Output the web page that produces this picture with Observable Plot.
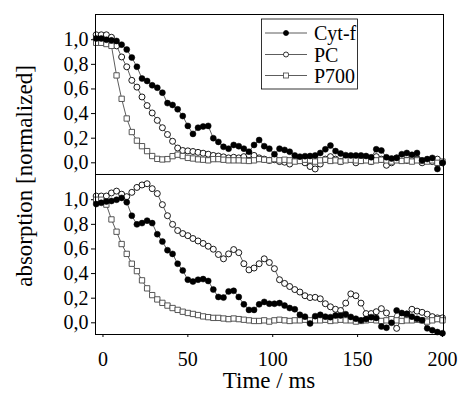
<!DOCTYPE html>
<html><head><meta charset="utf-8">
<script src="https://cdn.jsdelivr.net/npm/d3@7"></script>
<script src="https://cdn.jsdelivr.net/npm/@observablehq/plot@0.6"></script>
<style>body{margin:0;background:#fff}</style>
</head><body><div id="chart"></div>
<script>
const panels = ["top", "bottom"];
const seriesNames = ["Cyt-f", "PC", "P700"];
const xTicks = [0, 50, 100, 150, 200];
const yTicks = [0, 0.2, 0.4, 0.6, 0.8, 1.0];
const xTitle = "Time / ms";
const yTitle = "absorption [normalized]";

const times = [-4,-1,2,5,8,11,14,17,20,23,26,29,32,35,38,41,44,47,50,53,56,59,62,65,68,71,74,77,80,83,86,89,92,95,98,101,104,107,110,113,116,119,122,125,128,131,134,137,140,143,146,149,152,155,158,161,164,167,170,173,176,179,182,185,188,191,194,197,200];

const topCyt = [1.01,1.01,1.0,0.995,0.99,0.96,0.92,0.855,0.78,0.685,
0.665,0.63,0.61,0.57,0.485,0.47,0.435,0.38,0.3,0.235,
0.285,0.295,0.3,0.2,0.17,0.13,0.115,0.145,0.135,0.115,
0.09,0.145,0.185,0.135,0.115,0.07,0.115,0.105,0.09,0.06,
0.05,0.054,0.055,0.06,0.08,0.11,0.14,0.095,0.075,0.062,
0.06,0.06,0.06,0.055,0.045,0.11,0.10,0.045,0.035,0.04,
0.07,0.08,0.065,0.08,0.02,0.03,0.04,-0.05,0.0];
const topPC = [1.04,1.04,1.04,1.02,0.95,0.86,0.78,0.67,0.615,0.535,
0.465,0.405,0.345,0.285,0.23,0.175,0.12,0.1,0.097,0.092,
0.085,0.078,0.07,0.06,0.055,0.048,0.04,0.045,0.04,0.05,
0.065,0.06,0.04,0.03,0.02,0.025,0.01,0.005,-0.01,0.02,
0.03,0.0,-0.03,-0.05,-0.01,0.03,0.05,0.03,0.01,0.03,
0.04,0.0,0.02,0.03,0.01,0.05,0.03,-0.02,0.0,0.04,
0.05,0.02,0.05,0.03,0.0,0.02,0.01,0.03,0.0];
const topP700 = [0.975,0.975,0.965,0.95,0.71,0.52,0.36,0.25,0.18,0.135,
0.095,0.055,0.032,0.027,0.03,0.054,0.066,0.055,0.04,0.035,
0.028,0.025,0.02,0.03,0.03,0.025,0.02,0.02,0.02,0.018,
0.015,0.02,0.03,0.025,0.02,0.03,0.02,0.025,0.02,0.01,
0.015,0.025,0.02,0.01,0.02,0.025,0.015,0.02,0.01,0.02,
0.025,0.02,0.015,0.02,0.01,0.02,0.025,0.02,0.01,0.02,
0.015,0.02,0.01,0.02,0.015,0.01,0.02,0.0,0.01];

const botCyt = [0.965,0.975,0.985,0.99,1.0,1.015,0.98,0.87,0.80,0.81,
0.83,0.81,0.72,0.66,0.59,0.56,0.48,0.425,0.35,0.335,
0.35,0.355,0.34,0.27,0.21,0.205,0.255,0.26,0.21,0.15,
0.105,0.105,0.15,0.17,0.155,0.155,0.16,0.14,0.12,0.11,
0.065,0.05,-0.005,0.054,0.065,0.05,0.046,0.06,0.06,0.07,
0.048,0.033,0.02,0.03,0.046,0.04,-0.03,-0.04,0.0,0.1,
0.08,0.073,0.05,0.033,0.02,-0.045,-0.06,-0.075,-0.085];
const botPC = [1.03,1.03,1.03,1.055,1.07,1.045,1.025,1.06,1.10,1.12,
1.13,1.09,1.05,0.96,0.87,0.80,0.75,0.725,0.708,0.685,
0.665,0.645,0.622,0.598,0.555,0.52,0.56,0.595,0.57,0.48,
0.43,0.445,0.48,0.52,0.49,0.44,0.35,0.32,0.295,0.27,
0.25,0.22,0.205,0.207,0.195,0.155,0.13,0.11,0.10,0.16,
0.235,0.22,0.16,0.075,0.075,0.09,0.115,0.08,0.01,-0.045,
0.04,0.07,0.11,0.095,0.085,0.07,0.05,0.04,0.04];
const botP700 = [1.0,1.0,0.96,0.84,0.74,0.64,0.56,0.48,0.42,0.345,
0.28,0.225,0.19,0.162,0.14,0.12,0.105,0.09,0.08,0.072,
0.063,0.052,0.046,0.04,0.04,0.035,0.03,0.035,0.03,0.025,
0.02,0.015,0.015,0.02,0.01,0.02,0.025,0.02,0.015,0.02,
0.02,0.025,0.02,0.02,0.02,0.025,0.015,0.02,0.025,0.02,
0.02,0.01,0.015,0.02,0.025,0.02,0.015,0.02,0.03,0.02,
0.015,0.02,0.02,0.025,0.02,0.01,0.02,0.03,0.02];

const values = {
  top: {"Cyt-f": topCyt, "PC": topPC, "P700": topP700},
  bottom: {"Cyt-f": botCyt, "PC": botPC, "P700": botP700}
};
const rows = [];
for (const p of panels) for (const s of seriesNames)
  times.forEach((t, k) => rows.push({panel: p, series: s, t, v: values[p][s][k]}));

const comma = d => d3.format(".1f")(d).replace(".", ",");
const font = "'Liberation Serif', 'Times New Roman', serif";

const chart = Plot.plot({
  width: 461, height: 396,
  marginLeft: 95, marginRight: 18, marginTop: 13, marginBottom: 62,
  style: {fontFamily: font, fontSize: "20px", background: "white", color: "black"},
  facet: {data: rows, y: "panel", marginRight: 18},
  fy: {domain: panels, padding: 0, axis: null, label: null},
  x: {domain: [-4.4, 200.6], ticks: xTicks, tickSize: 3, tickPadding: 14, label: null},
  y: {domain: [-0.095, 1.205], ticks: yTicks, tickFormat: comma, tickSize: 4, tickPadding: 3, label: null},
  marks: [
    Plot.line(rows, {x: "t", y: "v", z: "series", stroke: "#333", strokeWidth: 0.8}),
    Plot.dot(rows, {filter: d => d.series === "PC", x: "t", y: "v", symbol: "circle", r: 3, fill: "white", stroke: "black", strokeWidth: 0.9}),
    Plot.dot(rows, {filter: d => d.series === "P700", x: "t", y: "v", symbol: "square", r: 3, fill: "white", stroke: "#444", strokeWidth: 0.9}),
    Plot.dot(rows, {filter: d => d.series === "Cyt-f", x: "t", y: "v", symbol: "circle", r: 3, fill: "black", stroke: "black", strokeWidth: 0.5}),
    Plot.frame({stroke: "black", strokeWidth: 1})
  ]
});
document.getElementById("chart").appendChild(chart);

const svg = d3.select(chart);
svg.selectAll("g, text").style("font-family", font);

svg.append("text").attr("x", 269).attr("y", 388).attr("text-anchor", "middle")
  .style("font-family", font).attr("font-size", 23).attr("fill", "black").text(xTitle);
svg.append("text").attr("transform", "translate(32,176) rotate(-90)").attr("text-anchor", "middle")
  .style("font-family", font).attr("font-size", 23).attr("fill", "black").text(yTitle);

const lg = svg.append("g");
lg.append("rect").attr("x", 261.5).attr("y", 19).attr("width", 96).attr("height", 70)
  .attr("fill", "white").attr("stroke", "black").attr("stroke-width", 0.8);
const rowY = [33, 54.5, 75.5];
seriesNames.forEach((s, i) => {
  const y = rowY[i];
  lg.append("line").attr("x1", 265).attr("x2", 307).attr("y1", y).attr("y2", y)
    .attr("stroke", "#333").attr("stroke-width", 0.8);
  if (s === "P700") {
    lg.append("rect").attr("x", 283.5).attr("y", y - 2.5).attr("width", 5).attr("height", 5)
      .attr("fill", "white").attr("stroke", "#444").attr("stroke-width", 0.8);
  } else {
    lg.append("circle").attr("cx", 286).attr("cy", y).attr("r", 2.5)
      .attr("fill", s === "Cyt-f" ? "black" : "white").attr("stroke", "black").attr("stroke-width", 0.8);
  }
  lg.append("text").attr("x", 314).attr("y", y).attr("dy", "0.35em").attr("text-anchor", "start")
    .style("font-family", font).attr("font-size", 20).attr("fill", "black").text(s);
});
</script></body></html>
